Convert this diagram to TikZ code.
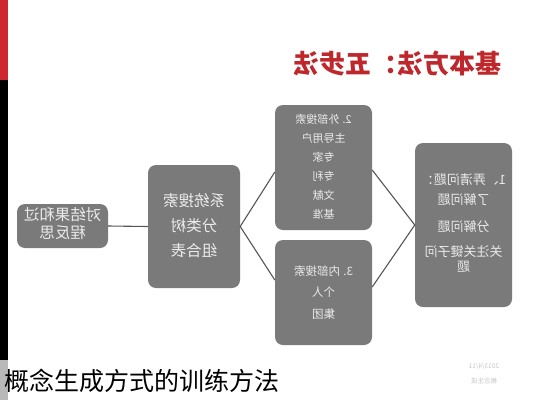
\documentclass[tikz,border=0pt]{standalone}
\usepackage{fontspec}
\usepackage{graphicx}
\newfontfamily\cjk{Noto Sans CJK SC}
\definecolor{boxgray}{RGB}{122,122,122}
\definecolor{linegray}{RGB}{85,85,85}
\definecolor{titlered}{RGB}{190,40,45}
\definecolor{barred}{RGB}{205,40,45}
\newcommand{\flip}[1]{\reflectbox{\begin{tabular}{@{}c@{}}#1\end{tabular}}}
\tikzset{
  blk/.style={fill=boxgray, rounded corners=8pt, text=white!92!black, inner sep=0pt},
  conn/.style={draw=linegray, line width=1.1pt}
}
\begin{document}
\begin{tikzpicture}[x=1pt, y=-1pt, font=\cjk]
\useasboundingbox (0,0) rectangle (533,400);

% Rand links
\fill[barred] (0,0) rectangle (8,80);
\fill[black] (0,80) rectangle (8,360);
\fill[gray!55] (0,360) rectangle (8,400);

% Titel
\node[text=titlered, font=\cjk\bfseries\fontsize{26}{30}\selectfont] (title) at (397,63) {\reflectbox{基本方法：五步法}};

% Kaesten
\node[blk, minimum width=91pt, minimum height=44pt, font=\cjk\fontsize{15.5}{18}\selectfont] (reflect) at (62.5,226) {\flip{对结果和过\\程反思}};
\node[blk, minimum width=92pt, minimum height=123pt, font=\cjk\fontsize{15.5}{25}\selectfont] (sys) at (194,226.5) {\flip{系统搜索\\分类树\\组合表}};
\node[blk, minimum width=97pt, minimum height=125pt, font=\cjk\fontsize{11}{19}\selectfont] (ext) at (323.5,167.5) {\flip{2. 外部搜索\\主导用户\\专家\\专利\\文献\\基准}};
\node[blk, minimum width=97pt, minimum height=105pt, font=\cjk\fontsize{11.5}{21.5}\selectfont] (int) at (323.5,292.5) {\flip{3. 内部搜索\\个人\\集团}};
\node[blk, minimum width=97pt, minimum height=164pt, font=\cjk\fontsize{13}{15}\selectfont] (prob) at (463.5,225) {\flip{1、弄清问题：\\[5pt]了解问题\\[11pt]分解问题\\[10pt]关注关键子问\\题}};

% Verbindungen
\draw[conn] (reflect.east) -- (sys.west);
\draw[conn] ([yshift=-4.5pt]ext.west) -- (sys.east) -- ([yshift=12.5pt]int.west);
\draw[conn] ([yshift=-2.5pt]ext.east) -- (prob.west) -- ([yshift=5.5pt]int.east);

% Fusszeile
\node[anchor=west, font=\cjk\fontsize{25}{28}\selectfont] (caption) at (1,381) {概念生成方式的训练方法};
\node[text=gray!45, font=\cjk\fontsize{6.5}{15}\selectfont] (date) at (484,373) {\flip{2013/4/11\\概念生成}};
\end{tikzpicture}
\end{document}
